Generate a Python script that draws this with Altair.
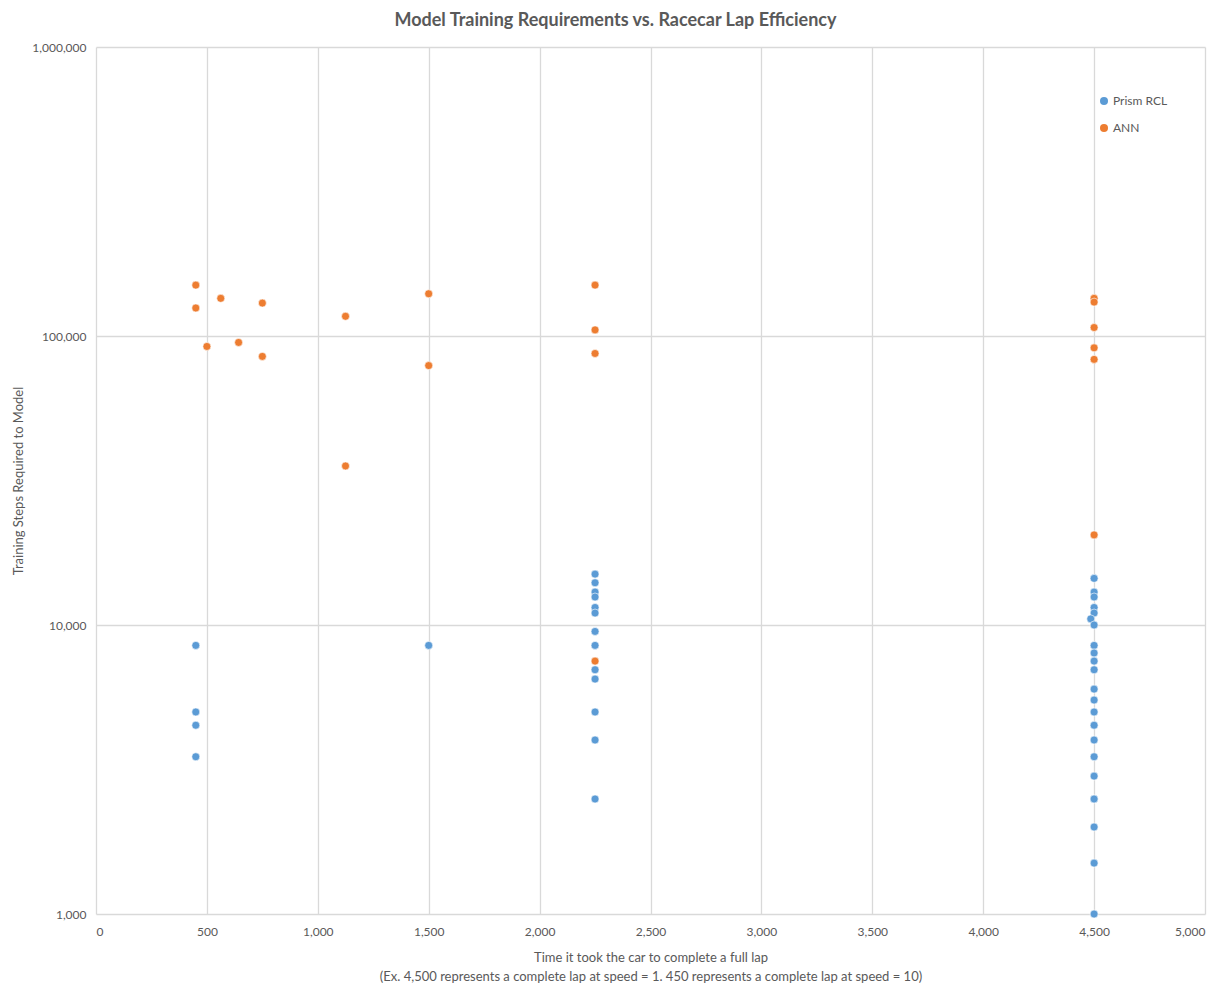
import altair as alt
import pandas as pd

# Prism RCL series
prism_x = [450, 450, 450, 450, 1500,
           2250, 2250, 2250, 2250, 2250, 2250, 2250, 2250, 2250, 2250, 2250, 2250, 2250,
           4500, 4500, 4500, 4500, 4500, 4485, 4500, 4500, 4500, 4500, 4500, 4500, 4500,
           4500, 4500, 4500, 4500, 4500, 4500, 4500, 4500, 4500, 4500]
prism_y = [8500, 5000, 4500, 3500, 8500,
           15000, 14000, 13000, 12500, 11500, 11000, 9500, 8500, 7000, 6500, 5000, 4000, 2500,
           14500, 13000, 12500, 11500, 11000, 10500, 10000, 8500, 8000, 7500, 7000,
           6000, 5500, 5000, 4500, 4000, 3500, 3000, 2500, 2500, 2000, 1500, 1000]

# ANN series
ann_x = [450, 450, 500, 562.5, 642.9, 750, 750, 1125, 1125, 1500, 1500,
         2250, 2250, 2250, 2250, 4500, 4500, 4500, 4500, 4500, 4500]
ann_y = [150000, 125000, 92000, 135000, 95000, 130000, 85000, 117000, 35500, 140000, 79000,
         150000, 105000, 87000, 7500, 135000, 131000, 107000, 91000, 83000, 20500]

series_names = ["Prism RCL", "ANN"]
series_colors = ["#5B9BD5", "#ED7D31"]

df = pd.concat([
    pd.DataFrame({"x": prism_x, "y": prism_y, "series": series_names[0]}),
    pd.DataFrame({"x": ann_x, "y": ann_y, "series": series_names[1]}),
])

FONT = "Lato"
GRAY = "#595959"

chart = alt.Chart(df).mark_circle(size=64, opacity=1, stroke="white", strokeWidth=0.6).encode(
    x=alt.X("x:Q",
            scale=alt.Scale(domain=[0, 5000], nice=False),
            axis=alt.Axis(values=list(range(0, 5001, 500)), format=",.0f",
                          title=["Time it took the car to complete a full lap",
                                 "(Ex. 4,500 represents a complete lap at speed = 1. 450 represents a complete lap at speed = 10)"],
                          titlePadding=14, titleLineHeight=19, labelPadding=12)),
    y=alt.Y("y:Q",
            scale=alt.Scale(type="log", domain=[1000, 1000000], nice=False),
            axis=alt.Axis(values=[1000, 10000, 100000, 1000000], format=",.0f",
                          title="Training Steps Required to Model", titlePadding=6,
                          labelPadding=10)),
    color=alt.Color("series:N",
                    scale=alt.Scale(domain=series_names, range=series_colors),
                    legend=alt.Legend(title=None, orient="none", legendX=1002, legendY=48,
                                      symbolType="circle", symbolSize=64, rowPadding=15,
                                      labelFontSize=12, labelColor=GRAY, labelFont=FONT,
                                      symbolStrokeWidth=0, labelOffset=3)),
).properties(
    width=1109, height=867,
    title=alt.TitleParams("Model Training Requirements vs. Racecar Lap Efficiency",
                          fontSize=18, font=FONT, fontWeight="bold", color=GRAY,
                          anchor="middle", dx=-35, offset=11),
    padding={"left": 4, "top": 4, "right": 10, "bottom": 0},
).configure_axis(
    grid=True, gridColor="#D9D9D9", gridWidth=1.3,
    domain=False, ticks=False,
    labelFont=FONT, labelFontSize=12, labelColor=GRAY,
    titleFont=FONT, titleFontSize=13, titleColor=GRAY, titleFontWeight="normal",
).configure_view(stroke=None)

chart.save("out.html", embed_options={"renderer": "svg", "actions": False})
